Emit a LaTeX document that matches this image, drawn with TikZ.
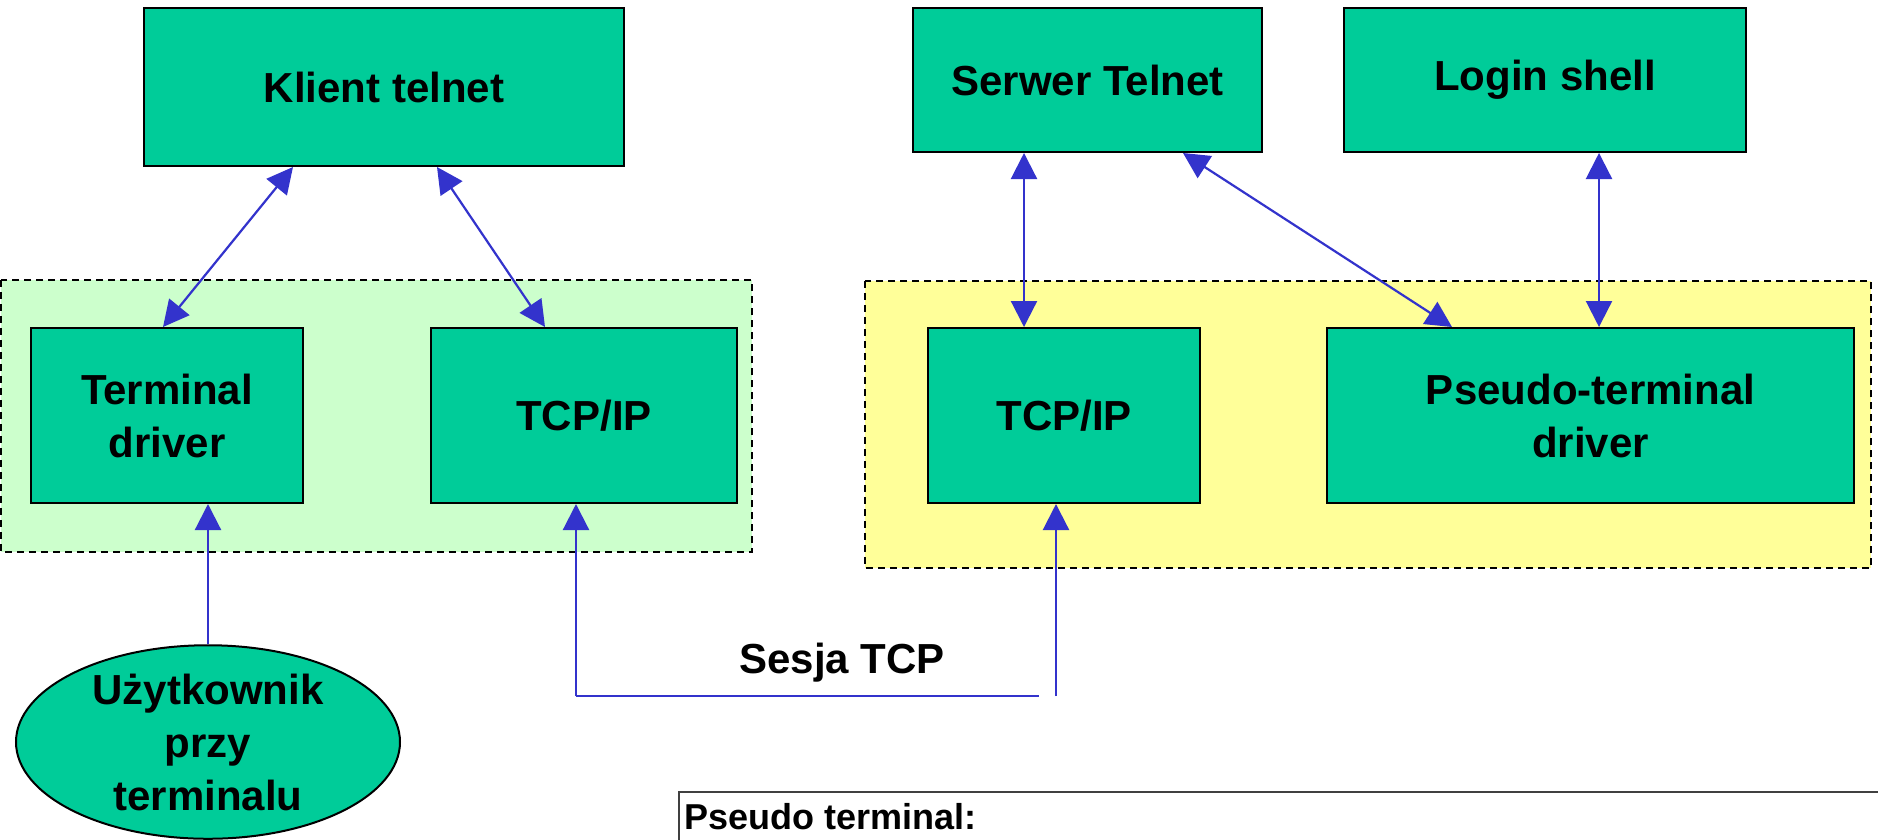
\documentclass[tikz,border=0pt]{standalone}
\usepackage{fontspec}
\setmainfont{Liberation Sans}
\usetikzlibrary{arrows.meta,shapes.geometric}
\definecolor{boxgreen}{RGB}{0,204,153}
\definecolor{zonegreen}{RGB}{204,255,204}
\definecolor{zoneyellow}{RGB}{255,255,153}
\definecolor{linkblue}{RGB}{51,51,204}
\tikzset{
  block/.style={draw=black, line width=2pt, fill=boxgreen, rectangle, inner sep=0pt,
    align=center, font=\fontsize{42}{53}\selectfont\bfseries},
  zone/.style={draw=black, line width=1.6pt, dash pattern=on 7pt off 5pt},
  link/.style={draw=linkblue, line width=2.2pt},
  tip/.style={},
  biarrow/.style={link, {Triangle[length=26pt,width=26pt]}-{Triangle[length=26pt,width=26pt]}},
  uparrow/.style={link, -{Triangle[length=26pt,width=26pt]}},
  label/.style={font=\fontsize{42}{53}\selectfont\bfseries, inner sep=0pt}
}
\begin{document}
\begin{tikzpicture}[x=1pt,y=-1pt]
\useasboundingbox[fill=white] (0,0) rectangle (1878,839);

% shaded host zones
\draw[zone, fill=zonegreen] (1,280) rectangle (752,552);
\draw[zone, fill=zoneyellow] (865,281) rectangle (1871,568);

% client side
\node[block, minimum width=480pt, minimum height=158pt] (klient) at (384,87) {Klient telnet};
\node[block, minimum width=272pt, minimum height=175pt] (term) at (167,415.5) {Terminal\\driver};
\node[block, minimum width=306pt, minimum height=175pt] (tcpL) at (584,415.5) {TCP/IP};
\node[block, ellipse, minimum width=384pt, minimum height=192pt] (user) at (208,742) {Użytkownik\\przy\\terminalu};

% server side
\node[block, minimum width=349pt, minimum height=144pt] (serwer) at (1087.5,80) {Serwer Telnet};
\node[block, minimum width=402pt, minimum height=144pt] (login) at (1545,80) {Login shell};
\node[block, minimum width=272pt, minimum height=175pt] (tcpR) at (1064,415.5) {TCP/IP};
\node[block, minimum width=527pt, minimum height=175pt] (pty) at (1590.5,415.5) {Pseudo-terminal\\driver};

% connections
\draw[biarrow] ([xshift=-91pt]klient.south) -- ([xshift=-4pt]term.north);
\draw[biarrow] ([xshift=53pt]klient.south) -- ([xshift=-39pt]tcpL.north);
\draw[biarrow] ([xshift=-63.5pt]serwer.south) -- ([xshift=-40pt]tcpR.north);
\draw[biarrow] ([xshift=95.5pt]serwer.south) -- ([xshift=-138.5pt]pty.north);
\draw[biarrow] ([xshift=54pt]login.south) -- ([xshift=54pt]login.south |- pty.north);
\draw[uparrow] (user.north) -- (user.north |- term.south);

% TCP session between the hosts
\coordinate (s1) at (576,696);
\coordinate (s2) at (1039,696);
\coordinate (s3) at (1056,696);
\draw[uparrow] (s1) -- (s1 |- tcpL.south);
\draw[link] (s1) -- (s2);
\draw[uparrow] (s3) -- (s3 |- tcpR.south);
\node[label] (sesja) at (842,663) {Sesja TCP};

% note box
\draw[draw=black!75, line width=1.6pt] (679,840) -- (679,792) -- (1880,792);
\node[font=\fontsize{36}{44}\selectfont\bfseries, inner sep=0pt, anchor=base west] (note) at (684,829) {Pseudo terminal:};
\end{tikzpicture}
\end{document}
